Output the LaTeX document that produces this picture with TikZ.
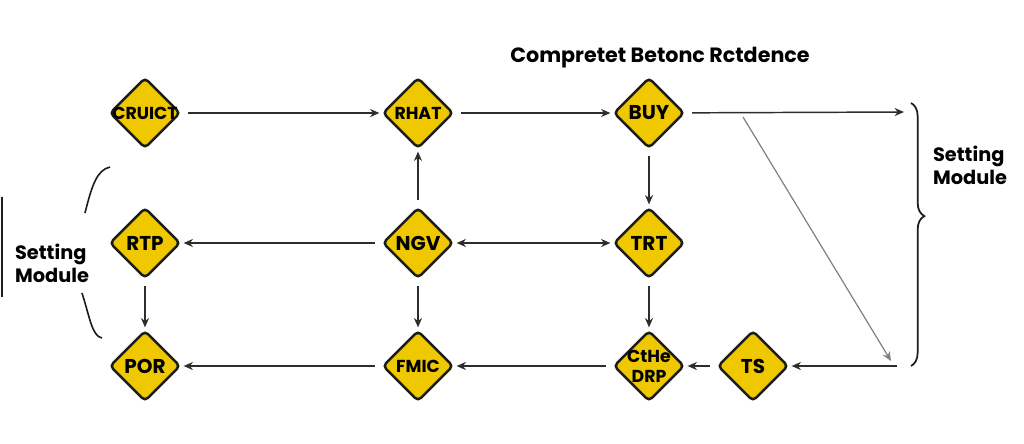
\documentclass[tikz,border=0pt]{standalone}
\usepackage{fontspec}
\setmainfont{Poppins}
\usetikzlibrary{positioning,shapes.geometric,arrows.meta,decorations.pathreplacing}
\definecolor{signyellow}{RGB}{240,200,0}
\definecolor{signedge}{RGB}{28,28,28}
\definecolor{linegray}{RGB}{45,45,45}
\tikzset{sign node/.style={diamond,aspect=1,fill=signyellow,draw=signedge,line width=1.9pt,rounded corners=3pt,minimum size=53pt,inner sep=-4pt,font=\fontsize{15}{16}\selectfont\bfseries},
long sign/.style={sign node,align=center,font=\fontsize{13}{15}\selectfont\bfseries},
note/.style={align=left,font=\fontsize{14.5}{17.5}\selectfont\bfseries},
}

\begin{document}
\begin{tikzpicture}[x=0.75pt,y=-0.75pt,on grid,>={Stealth[length=7pt,width=6pt]}]
				\useasboundingbox[fill=white] (0,0) rectangle (1024,443);
				\node[long sign] (cruict) at (145,113) {CRUICT};
				\node[long sign] (rhat) [right=204.75pt of cruict] {RHAT};
				\node[sign node] (buy) [right=173.25pt of rhat] {BUY};
				\node[sign node] (rtp) [below=97.5pt of cruict] {RTP};
				\node[sign node] (ngv) [below=97.5pt of rhat] {NGV};
				\node[sign node] (trt) [below=97.5pt of buy] {TRT};
				\node[sign node] (por) [below=92.25pt of rtp] {POR};
				\node[long sign] (fmk) [below=92.25pt of ngv] {FMIC};
				\node[long sign] (drp) [below=92.25pt of trt] {CtHe\\DRP};
				\node[sign node] (ts) [right=78pt of drp] {TS};
				
				\node[font=\fontsize{15.5}{18}\selectfont\bfseries] (head) at (660,58) {Compretet Betonc Rctdence};
				\node[note] (setright) at (970,165) {Setting\\Module};
				\node[note] (setleft) at (52,263) {Setting\\Module};
				
				\coordinate (tobrace) at (906,112);
				\coordinate (diagstart) at (743,117);
				\coordinate (diagend) at (891,361);
				\coordinate (tsfeed) at (897,366);
				
				\path[line width=1.1pt,linegray,->,shorten <=5pt,shorten >=1.5pt]
				(cruict) edge (rhat)
				(rhat) edge (buy)
				(buy) edge (tobrace)
				(ngv) edge (rhat)
				(ngv) edge (rtp)
				(ngv) edge[<->,shorten <=1.5pt] (trt)
				(buy) edge (trt)
				(rtp) edge (por)
				(ngv) edge (fmk)
				(trt) edge (drp)
				(fmk) edge (por)
				(drp) edge (fmk)
				(ts) edge (drp)
				(tsfeed) edge[shorten <=0pt] (ts)
				(diagstart) edge[gray,line width=0.9pt,shorten <=0pt,shorten >=0pt] (diagend);
				
				% brace on the right
				\draw[signedge,line width=1.3pt,decorate,decoration={brace,amplitude=10pt,aspect=0.43}] (911,103) -- (911,366);
				% bracket on the left
				\draw[signedge,line width=1.2pt] (2,197) -- (2,297);
				\draw[signedge,line width=1.2pt] (110,167) .. controls (97,170) and (92,185) .. (85,213);
				\draw[signedge,line width=1.2pt] (82,293) .. controls (90,318) and (92,336) .. (102,338);
			\end{tikzpicture}
\end{document}
